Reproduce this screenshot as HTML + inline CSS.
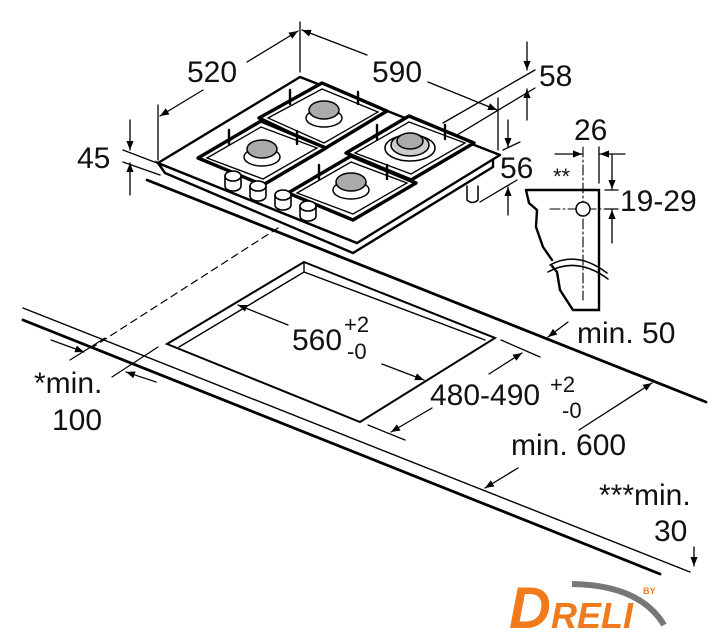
<!DOCTYPE html>
<html><head><meta charset="utf-8"><style>
html,body{margin:0;padding:0;background:#fff;}
svg{display:block;}
text{font-family:"Liberation Sans",sans-serif;fill:#111;}
.t{font-size:30px;}
</style></head><body>
<svg width="727" height="640" viewBox="0 0 727 640" xmlns="http://www.w3.org/2000/svg">
<defs>
<marker id="ar" viewBox="0 0 10 10" refX="10" refY="5" markerWidth="9" markerHeight="9" orient="auto-start-reverse" markerUnits="userSpaceOnUse"><path d="M0,1 L10,5 L0,9 z" fill="#000"/></marker>
</defs>
<g stroke="#000" fill="none" stroke-linecap="round">
<line x1="147" y1="180" x2="706" y2="402" stroke-width="2.8"/>
<line x1="23" y1="308" x2="690" y2="572" stroke-width="1.4"/>
<line x1="23" y1="320" x2="660" y2="574" stroke-width="2.8"/>
<line x1="278" y1="228" x2="93" y2="347" stroke-width="1.2" stroke-dasharray="7,5"/>
<polygon points="304,262 495,338 360,422 167,344" stroke-width="2"/>
<polyline points="179,347 304,272 485,340" stroke-width="1.4"/>
<line x1="304" y1="262" x2="304" y2="272" stroke-width="1.4"/>
<line x1="238" y1="305" x2="288" y2="325" stroke-width="1.3" marker-start="url(#ar)"/>
<line x1="382" y1="364" x2="424" y2="380" stroke-width="1.3" marker-end="url(#ar)"/>
<line x1="501" y1="340" x2="540" y2="357" stroke-width="1.3"/>
<line x1="368" y1="425" x2="405" y2="440" stroke-width="1.3"/>
<line x1="489" y1="374" x2="522" y2="353" stroke-width="1.3" marker-end="url(#ar)"/>
<line x1="432" y1="408" x2="391" y2="432" stroke-width="1.3" marker-end="url(#ar)"/>
<line x1="579" y1="430" x2="652" y2="383" stroke-width="1.3" marker-end="url(#ar)"/>
<line x1="518" y1="468" x2="485" y2="488" stroke-width="1.3" marker-end="url(#ar)"/>
<line x1="568" y1="322" x2="548" y2="337" stroke-width="1.3" marker-end="url(#ar)"/>
<line x1="694" y1="547" x2="694" y2="566" stroke-width="1.3" marker-end="url(#ar)"/>
<line x1="70" y1="360" x2="105" y2="338" stroke-width="1.2"/>
<line x1="112" y1="377" x2="158" y2="347" stroke-width="1.2"/>
<line x1="51" y1="340" x2="84" y2="352" stroke-width="1.2" marker-end="url(#ar)"/>
<line x1="156" y1="382" x2="126" y2="372" stroke-width="1.2" marker-end="url(#ar)"/>

<path d="M165,173 L353,253 L493,167 L493,157 L357,243 L158,163 Z" fill="#fff" stroke-width="2.4"/>
<path d="M158,163 L300,77 L500,155 L357,243 Z" fill="#fff" stroke-width="2.4" stroke-linejoin="round"/>
<path d="M467,186 L467,200 Q472,205 478,200 L478,186" fill="#fff" stroke-width="1.5"/>
<line x1="158" y1="105" x2="158" y2="160" stroke-width="1.3"/>
<line x1="300" y1="22" x2="300" y2="72" stroke-width="1.3"/>
<line x1="498" y1="98" x2="498" y2="150" stroke-width="1.3"/>
<line x1="203" y1="90" x2="160" y2="116" stroke-width="1.3" marker-end="url(#ar)"/>
<line x1="247" y1="62" x2="298" y2="31" stroke-width="1.3" marker-end="url(#ar)"/>
<line x1="367" y1="55" x2="302" y2="30" stroke-width="1.3" marker-end="url(#ar)"/>
<line x1="428" y1="82" x2="497" y2="110" stroke-width="1.3" marker-end="url(#ar)"/>
<line x1="443" y1="123" x2="535" y2="70" stroke-width="1.3"/>
<line x1="457" y1="135" x2="535" y2="88" stroke-width="1.3"/>
<line x1="527" y1="42" x2="527" y2="70" stroke-width="1.3" marker-end="url(#ar)"/>
<line x1="527" y1="120" x2="527" y2="89" stroke-width="1.3" marker-end="url(#ar)"/>
<line x1="123" y1="150" x2="157" y2="163" stroke-width="1.3"/>
<line x1="123" y1="162" x2="160" y2="175" stroke-width="1.3"/>
<line x1="130" y1="120" x2="130" y2="150" stroke-width="1.3" marker-end="url(#ar)"/>
<line x1="130" y1="195" x2="130" y2="163" stroke-width="1.3" marker-end="url(#ar)"/>
<line x1="503" y1="150" x2="520" y2="142" stroke-width="1.3"/>
<line x1="480" y1="202" x2="517" y2="180" stroke-width="1.3"/>
<line x1="508" y1="120" x2="508" y2="147" stroke-width="1.3" marker-end="url(#ar)"/>
<line x1="508" y1="215" x2="508" y2="187" stroke-width="1.3" marker-end="url(#ar)"/>

<g stroke-width="3.4" fill="#fff" stroke-linejoin="round">
<polygon points="259,118 322,83 387,111 324,149"/>
<polygon points="198,158 261,121 326,148 263,185"/>
<polygon points="346,153 409,116 474,143 411,180"/>
<polygon points="288,193 351,156 416,183 353,220"/>
</g>
<g stroke-width="1.3" fill="none">
<polygon points="268,118 322,89 378,112 324,143"/>
<polygon points="207,158 261,127 317,148 263,179"/>
<polygon points="355,153 409,122 465,143 411,174"/>
<polygon points="297,193 351,162 407,183 353,214"/>
</g>
<g stroke-width="2.4">
<line x1="290" y1="104" x2="290" y2="90"/><line x1="358" y1="104" x2="358" y2="92"/>
<line x1="229" y1="144" x2="229" y2="130"/><line x1="297" y1="144" x2="297" y2="131"/>
<line x1="377" y1="139" x2="377" y2="125"/><line x1="445" y1="139" x2="445" y2="125"/>
<line x1="319" y1="179" x2="319" y2="165"/><line x1="387" y1="179" x2="387" y2="165"/>
</g>
<g stroke-width="1.5">
<ellipse cx="324" cy="118" rx="18" ry="9" fill="#fff"/>
<ellipse cx="324" cy="110" rx="15" ry="9" fill="#aaa"/>
<ellipse cx="262" cy="157" rx="18" ry="9" fill="#fff"/>
<ellipse cx="262" cy="149" rx="15" ry="9" fill="#aaa"/>
<ellipse cx="410" cy="148" rx="25" ry="13" fill="#fff"/>
<ellipse cx="410" cy="145" rx="19" ry="11" fill="#ccc"/>
<ellipse cx="410" cy="141" rx="13" ry="8" fill="#aaa"/>
<ellipse cx="351" cy="190" rx="18" ry="9" fill="#fff"/>
<ellipse cx="351" cy="182" rx="15" ry="9" fill="#aaa"/>
</g>
<g stroke-width="1.6" fill="#fff">
<path d="M225,176 v10 a8,5 0 0 0 16,0 v-10"/><ellipse cx="233" cy="176" rx="8" ry="5"/>
<path d="M250,186 v10 a8,5 0 0 0 16,0 v-10"/><ellipse cx="258" cy="186" rx="8" ry="5"/>
<path d="M275,195 v10 a8,5 0 0 0 16,0 v-10"/><ellipse cx="283" cy="195" rx="8" ry="5"/>
<path d="M300,206 v10 a8,5 0 0 0 16,0 v-10"/><ellipse cx="308" cy="206" rx="8" ry="5"/>
</g>

<path d="M526,190 L599,190 L599,310 L573,310 L560,290 L557,272 L552,266 M552,260 L543,247 L536,227 L537,210 L529,203 L526,190" stroke-width="2.4" fill="#fff"/>
<path d="M550,265 Q577,250 607,273" stroke-width="1.5"/>
<path d="M548,272 Q577,256 608,279" stroke-width="1.5"/>
<line x1="583" y1="147" x2="583" y2="300" stroke-width="1.1" stroke-dasharray="10,3,2,3"/>
<line x1="550" y1="209" x2="618" y2="209" stroke-width="1.1" stroke-dasharray="10,3,2,3"/>
<circle cx="583" cy="209" r="7" stroke-width="1.5" fill="#fff"/>
<line x1="599" y1="147" x2="599" y2="183" stroke-width="1.3"/>
<line x1="555" y1="154" x2="582" y2="154" stroke-width="1.3" marker-end="url(#ar)"/>
<line x1="625" y1="154" x2="600" y2="154" stroke-width="1.3" marker-end="url(#ar)"/>
<line x1="605" y1="190" x2="618" y2="190" stroke-width="1.3"/>
<line x1="605" y1="209" x2="618" y2="209" stroke-width="1.3"/>
<line x1="612" y1="155" x2="612" y2="189" stroke-width="1.3" marker-end="url(#ar)"/>
<line x1="612" y1="243" x2="612" y2="210" stroke-width="1.3" marker-end="url(#ar)"/>
</g>

<text class="t" x="187" y="82">520</text>
<text class="t" x="372" y="82">590</text>
<text class="t" x="539" y="86">58</text>
<text class="t" x="77" y="168">45</text>
<text class="t" x="500" y="178">56</text>
<text class="t" x="574" y="140">26</text>
<text x="553" y="184" style="font-size:22px">**</text>
<text class="t" x="620" y="211">19-29</text>
<text class="t" x="292" y="350">560</text>
<text x="344" y="332" style="font-size:22px">+2</text>
<text x="347" y="359" style="font-size:22px">-0</text>
<text class="t" x="430" y="405">480-490</text>
<text x="550" y="392" style="font-size:22px">+2</text>
<text x="562" y="418" style="font-size:22px">-0</text>
<text class="t" x="577" y="343">min. 50</text>
<text class="t" x="511" y="455">min. 600</text>
<text class="t" x="599" y="505">***min.</text>
<text class="t" x="654" y="541">30</text>
<text class="t" x="34" y="393">*min.</text>
<text class="t" x="52" y="430">100</text>

<path d="M572,584 Q640,585 664,625" stroke="#777" stroke-width="6" fill="none"/>
<text x="509" y="628" style="font-size:58px;font-weight:bold;font-style:italic;fill:#f07b1d">D</text>
<text x="551" y="628" style="font-size:36px;font-weight:bold;font-style:italic;fill:#f07b1d">RELI</text>
<text x="643" y="594" style="font-size:9px;font-weight:bold;fill:#f07b1d">BY</text>
</svg>
</body></html>
